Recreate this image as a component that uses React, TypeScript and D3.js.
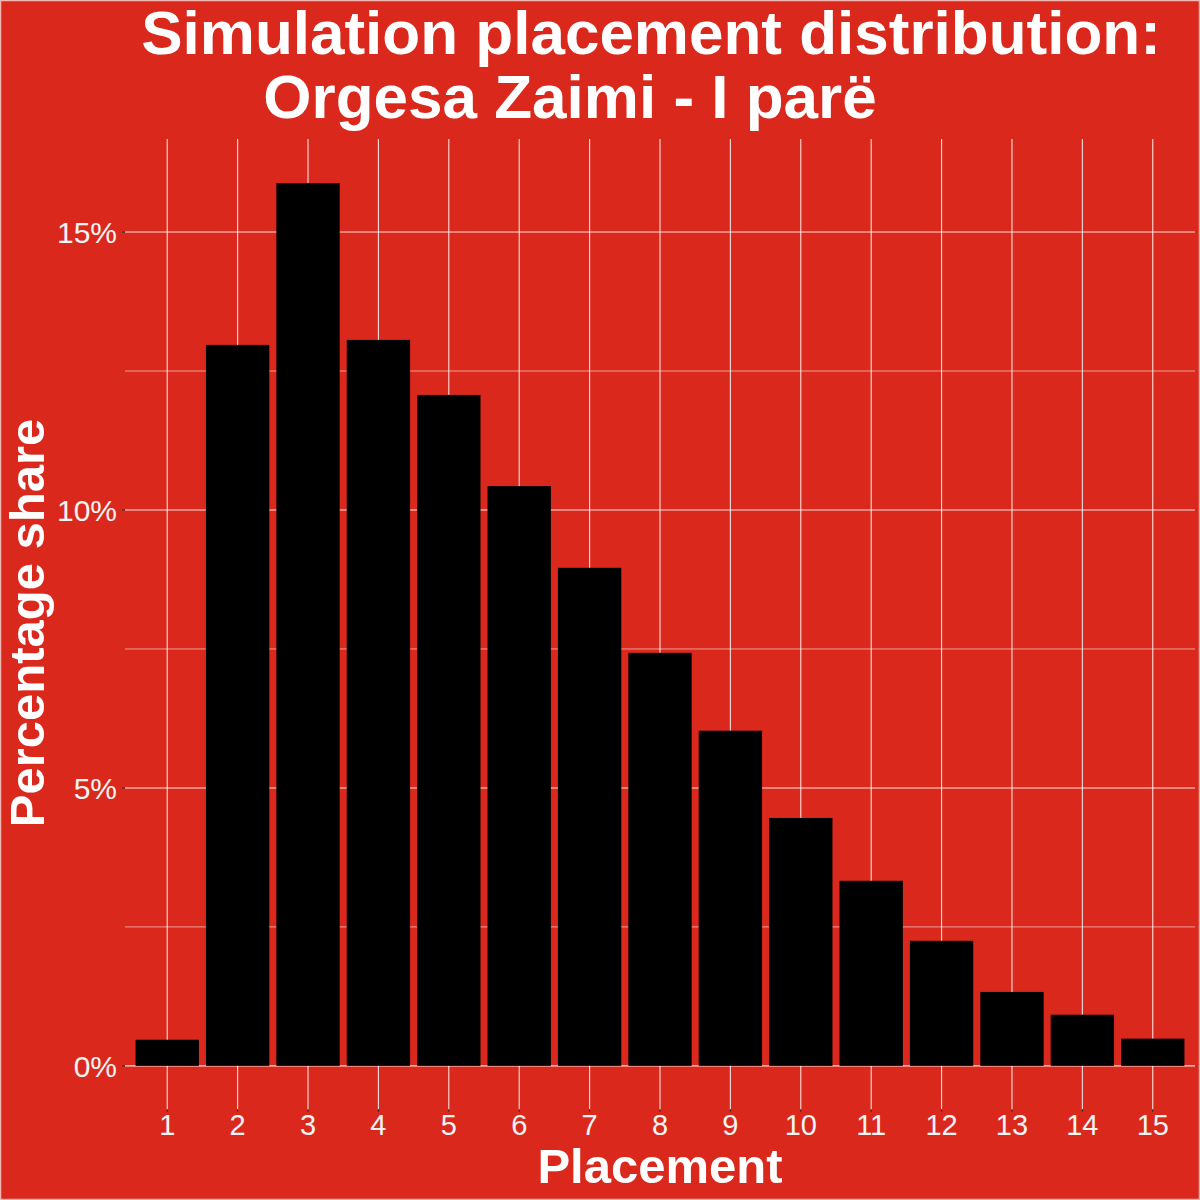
import { useEffect, useRef } from "react"
import * as d3 from "d3"

const placements = ["1", "2", "3", "4", "5", "6", "7", "8", "9", "10", "11", "12", "13", "14", "15"]
const shares = [0.47, 12.97, 15.88, 13.06, 12.07, 10.43, 8.96, 7.43, 6.03, 4.46, 3.33, 2.25, 1.33, 0.92, 0.49]
const majorTicks = [0, 5, 10, 15]
const minorTicks = [2.5, 7.5, 12.5]
const titleLines = ["Simulation placement distribution:", "Orgesa Zaimi - I parë"]

const BG = "#DA291C"
const FONT = "'Liberation Sans', Arial, Helvetica, sans-serif"

export default function App() {
  const svgRef = useRef<SVGSVGElement>(null)

  useEffect(() => {
    if (!svgRef.current) return
    const svg = d3.select(svgRef.current)
    svg.selectAll("*").remove()

    const width = 1200
    const height = 1200
    const panel = { left: 125, right: 1195, top: 139, bottom: 1110 }

    svg.attr("width", width).attr("height", height)

    // background with a faint edge
    svg
      .append("rect")
      .attr("x", 0.5)
      .attr("y", 0.5)
      .attr("width", width - 1)
      .attr("height", height - 1)
      .attr("fill", BG)
      .attr("stroke", "#f2b7b2")
      .attr("stroke-width", 1.5)

    const maxVal = d3.max(shares) || 1
    const pad = maxVal * 0.05

    const x = d3
      .scaleBand<string>()
      .domain(placements)
      .range([panel.left, panel.right])
      .paddingInner(0.1)
      .paddingOuter(0.15)

    const y = d3
      .scaleLinear()
      .domain([-pad, maxVal + pad])
      .range([panel.bottom, panel.top])

    const grid = svg.append("g")

    // minor horizontal grid
    grid
      .selectAll(".minor")
      .data(minorTicks)
      .enter()
      .append("line")
      .attr("x1", panel.left)
      .attr("x2", panel.right)
      .attr("y1", (d) => y(d))
      .attr("y2", (d) => y(d))
      .attr("stroke", "#ffffff")
      .attr("stroke-opacity", 0.55)
      .attr("stroke-width", 1)

    // major horizontal grid
    grid
      .selectAll(".major")
      .data(majorTicks)
      .enter()
      .append("line")
      .attr("x1", panel.left)
      .attr("x2", panel.right)
      .attr("y1", (d) => y(d))
      .attr("y2", (d) => y(d))
      .attr("stroke", "#ffffff")
      .attr("stroke-opacity", 0.85)
      .attr("stroke-width", 1.1)

    // vertical grid
    grid
      .selectAll(".vert")
      .data(placements)
      .enter()
      .append("line")
      .attr("x1", (d) => (x(d) || 0) + x.bandwidth() / 2)
      .attr("x2", (d) => (x(d) || 0) + x.bandwidth() / 2)
      .attr("y1", panel.top)
      .attr("y2", panel.bottom)
      .attr("stroke", "#ffffff")
      .attr("stroke-opacity", 0.85)
      .attr("stroke-width", 1.1)

    // bars
    svg
      .selectAll(".bar")
      .data(placements)
      .enter()
      .append("rect")
      .attr("x", (d) => x(d) || 0)
      .attr("y", (_d, i) => y(shares[i]))
      .attr("width", x.bandwidth())
      .attr("height", (_d, i) => y(0) - y(shares[i]))
      .attr("fill", "#000000")

    // y axis ticks and labels
    const yAxis = svg.append("g")
    yAxis
      .selectAll("line")
      .data(majorTicks)
      .enter()
      .append("line")
      .attr("x1", panel.left - 3)
      .attr("x2", panel.left)
      .attr("y1", (d) => y(d))
      .attr("y2", (d) => y(d))
      .attr("stroke", "#333333")
      .attr("stroke-width", 1.1)
    yAxis
      .selectAll("text")
      .data(majorTicks)
      .enter()
      .append("text")
      .attr("x", panel.left - 8)
      .attr("y", (d) => y(d))
      .attr("dy", "0.36em")
      .attr("text-anchor", "end")
      .attr("fill", "#f4f4f4")
      .style("font-family", FONT)
      .style("font-size", "30px")
      .text((d) => `${d}%`)

    // x axis ticks and labels
    const xAxis = svg.append("g")
    xAxis
      .selectAll("line")
      .data(placements)
      .enter()
      .append("line")
      .attr("x1", (d) => (x(d) || 0) + x.bandwidth() / 2)
      .attr("x2", (d) => (x(d) || 0) + x.bandwidth() / 2)
      .attr("y1", panel.bottom - 1)
      .attr("y2", panel.bottom + 2)
      .attr("stroke", "#333333")
      .attr("stroke-width", 1.1)
    xAxis
      .selectAll("text")
      .data(placements)
      .enter()
      .append("text")
      .attr("x", (d) => (x(d) || 0) + x.bandwidth() / 2)
      .attr("y", 1135)
      .attr("text-anchor", "middle")
      .attr("fill", "#f4f4f4")
      .style("font-family", FONT)
      .style("font-size", "29px")
      .text((d) => d)

    // axis titles
    svg
      .append("text")
      .attr("x", (panel.left + panel.right) / 2)
      .attr("y", 1183)
      .attr("text-anchor", "middle")
      .attr("fill", "#ffffff")
      .style("font-family", FONT)
      .style("font-weight", "bold")
      .style("font-size", "49px")
      .text("Placement")

    svg
      .append("text")
      .attr("transform", `translate(44, 623) rotate(-90)`)
      .attr("text-anchor", "middle")
      .attr("fill", "#ffffff")
      .style("font-family", FONT)
      .style("font-weight", "bold")
      .style("font-size", "49px")
      .text("Percentage share")

    // title
    const titleX = [651, 570]
    const titleY = [54, 118]
    svg
      .selectAll(".title")
      .data(titleLines)
      .enter()
      .append("text")
      .attr("x", (_d, i) => titleX[i])
      .attr("y", (_d, i) => titleY[i])
      .attr("text-anchor", "middle")
      .attr("fill", "#ffffff")
      .style("font-family", FONT)
      .style("font-weight", "bold")
      .style("font-size", "62px")
      .text((d) => d)
  }, [])

  return (
    <div style={{ position: "absolute", left: 0, top: 0 }}>
      <svg ref={svgRef} style={{ display: "block" }} />
    </div>
  )
}
